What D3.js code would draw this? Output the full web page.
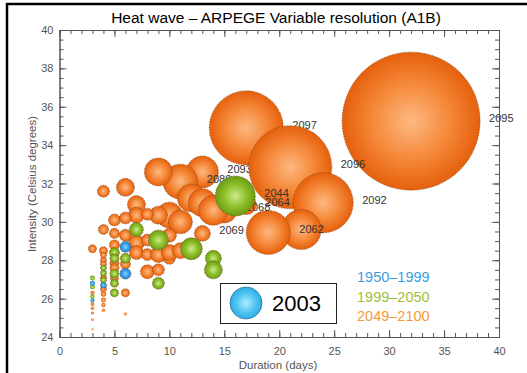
<!DOCTYPE html>
<html>
<head>
<meta charset="utf-8">
<script src="https://cdn.jsdelivr.net/npm/d3@7"></script>
<style>
  body { margin: 0; background: #fff; }
  text { font-family: "Liberation Sans", Arial, sans-serif; }
</style>
</head>
<body>
<script>
// chart values: [duration (days), intensity (deg C), severity, year label]
const periods = ["1950\u20131999", "1999\u20132050", "2049\u20132100"];

const events2049 = [
    [32, 35.25, 100, "2095"],
    [17, 34.9, 28.8, "2097"],
    [13, 32.6, 5.4, "2093"],
    [11, 32.1, 6.4, "2080"],
    [21, 32.85, 36.2, "2096"],
    [24, 31.0, 18.9, "2092"],
    [22, 29.6, 8.4, ""],
    [19, 29.45, 10.2, "2062"],
    [17, 30.9, 2.1, "2064"],
    [15, 30.6, 3.3, "2068"],
    [9, 32.6, 4.1, ""],
    [12, 31.25, 4.1, ""],
    [13, 31.0, 4.1, ""],
    [14, 30.6, 4.7, ""],
    [10, 30.35, 3.55, ""],
    [11, 30.0, 3.0, ""],
    [9, 30.35, 1.7, ""],
    [13, 29.4, 1.34, "2069"],
    [6, 31.8, 1.7, ""],
    [4, 31.6, 0.76, ""],
    [7, 30.9, 1.7, ""],
    [7, 30.35, 1.34, ""],
    [8, 30.4, 0.76, ""],
    [5, 30.1, 0.76, ""],
    [6, 30.2, 0.76, ""],
    [4, 29.6, 0.53, ""],
    [5, 29.4, 0.53, ""],
    [6, 29.3, 0.76, ""],
    [3, 28.6, 0.34, ""],
    [4, 28.5, 0.34, ""],
    [5, 28.8, 0.53, ""],
    [7, 28.9, 1.34, ""],
    [7, 28.4, 1.03, ""],
    [8, 29.05, 0.76, ""],
    [8, 28.3, 0.76, ""],
    [9, 28.3, 1.34, ""],
    [10, 28.1, 0.76, ""],
    [10, 28.4, 1.34, ""],
    [11, 28.5, 1.34, ""],
    [10, 29.3, 1.03, ""],
    [8, 27.4, 1.03, ""],
    [9, 27.5, 0.76, ""],
    [6, 26.3, 0.34, ""],
    [6, 27.8, 0.53, ""],
    [6, 25.2, 0.047, ""],
    [5, 27.85, 0.43, ""],
    [5, 27.6, 0.43, ""],
    [5, 27.07, 0.34, ""],
    [4, 28.27, 0.19, ""],
    [4, 28.0, 0.19, ""],
    [4, 27.8, 0.19, ""],
    [4, 27.1, 0.19, ""],
    [4, 26.5, 0.19, ""],
    [4, 26.24, 0.15, ""],
    [4, 25.93, 0.13, ""],
    [4, 25.67, 0.1, ""],
    [4, 25.4, 0.06, ""],
    [3, 26.3, 0.1, ""],
    [3, 25.72, 0.08, ""],
    [3, 25.5, 0.07, ""],
    [3, 25.25, 0.05, ""],
    [3, 24.9, 0.03, ""],
    [3, 24.4, 0.02, ""]
];

const events1999 = [
    [16, 31.35, 8.4, "2044"],
    [7, 29.6, 1.03, ""],
    [9, 29.05, 2.1, ""],
    [12, 28.6, 2.5, ""],
    [14, 28.1, 1.34, ""],
    [14, 27.5, 1.7, ""],
    [9, 26.8, 0.76, ""],
    [6, 28.1, 0.53, ""],
    [5, 28.4, 0.53, ""],
    [5, 28.1, 0.43, ""],
    [5, 27.3, 0.43, ""],
    [5, 26.8, 0.34, ""],
    [5, 26.3, 0.34, ""],
    [4, 27.6, 0.19, ""],
    [4, 27.33, 0.19, ""],
    [4, 26.97, 0.19, ""],
    [3, 27.07, 0.13, ""],
    [3, 26.6, 0.13, ""],
    [3, 26.1, 0.1, ""]
];

const events1950 = [
    [6, 28.7, 0.64, ""],
    [6, 27.3, 0.64, ""],
    [4, 26.7, 0.19, ""],
    [3, 26.8, 0.13, ""],
    [3, 25.9, 0.084, ""]
];

const event2003 = [5.4, "2003"];  // severity of the 2003 reference wave

const xMajor = [0, 5, 10, 15, 20, 25, 30, 35, 40];
const yMajor = [24, 26, 28, 30, 32, 34, 36, 38, 40];

const width = 527, height = 373;

const svg = d3.select("body").append("svg")
    .attr("width", width)
    .attr("height", height);

// scales
const x = d3.scaleLinear().domain([0, 40]).range([59.5, 499]);
const y = d3.scaleLinear().domain([24, 40]).range([337, 30]);
const r = d3.scaleSqrt().domain([0, 100]).range([0, 69]);

// gradients for the shaded balls
const defs = svg.append("defs");
const grads = {
    orange: ["#fdb983", "#f5893a", "#e5600c"],
    green: ["#cde98f", "#8fc12c", "#6a9c12"],
    blue: ["#8fd4ff", "#3aa2ec", "#1a86d8"],
    cyan: ["#b2ecff", "#58c8f2", "#2aaee6"]
};
Object.entries(grads).forEach(([k, c]) => {
    const g = defs.append("radialGradient").attr("id", "g_" + k)
        .attr("cx", "50%").attr("cy", "50%").attr("r", "50%");
    g.append("stop").attr("offset", "0%").attr("stop-color", c[0]);
    g.append("stop").attr("offset", "55%").attr("stop-color", c[1]);
    g.append("stop").attr("offset", "100%").attr("stop-color", c[2]);
});

// outer frame (only left/top visible in the original crop)
svg.append("rect")
    .attr("x", 7).attr("y", 4)
    .attr("width", width).attr("height", height)
    .attr("fill", "none").attr("stroke", "#000").attr("stroke-width", 2.5);

// title
svg.append("text")
    .attr("x", 276).attr("y", 23)
    .attr("text-anchor", "middle")
    .attr("font-size", 15.5)
    .text("Heat wave \u2013 ARPEGE Variable resolution (A1B)");

// bubbles, each followed by its year label so later balls can hide it
const drawGroup = (data, key) => {
    const g = svg.append("g");
    data.forEach(d => {
        g.append("circle")
            .attr("cx", x(d[0]))
            .attr("cy", y(d[1]))
            .attr("r", r(d[2]))
            .attr("fill", `url(#g_${key})`)
            .attr("stroke", "#7a3a10")
            .attr("stroke-width", r(d[2]) > 3 ? 0.6 : 0)
            .attr("stroke-dasharray", "1.5,1.2");
        if (d[3] !== "") {
            g.append("text")
                .attr("x", x(d[0]) + r(d[2]) + 9)
                .attr("y", y(d[1]) + 1)
                .attr("font-size", 11)
                .attr("fill", "#333")
                .text(d[3]);
        }
    });
};
drawGroup(events2049, "orange");
drawGroup(events1999, "green");
drawGroup(events1950, "blue");

// axes: ticks inward on all four sides
const axisColor = "#555";
const styleAxis = (g) => {
    g.selectAll("path").attr("stroke", axisColor);
    g.selectAll("line").attr("stroke", axisColor);
    g.selectAll("text").attr("fill", "#555").attr("font-size", 11)
        .attr("font-family", "Liberation Sans, Arial, sans-serif");
};

const xMinor = d3.range(0, 41, 1);
const yMinor = d3.range(24, 40.01, 0.5);

svg.append("g").attr("transform", "translate(0,337)")
    .call(d3.axisBottom(x).tickValues(xMinor).tickSizeInner(-4).tickSizeOuter(0).tickFormat(""))
    .call(styleAxis);
svg.append("g").attr("transform", "translate(0,337)")
    .call(d3.axisBottom(x).tickValues(xMajor).tickSizeInner(-7).tickSizeOuter(0).tickPadding(10))
    .call(styleAxis);
svg.append("g").attr("transform", "translate(0,30)")
    .call(d3.axisTop(x).tickValues(xMinor).tickSizeInner(-4).tickSizeOuter(0).tickFormat(""))
    .call(styleAxis);
svg.append("g").attr("transform", "translate(0,30)")
    .call(d3.axisTop(x).tickValues(xMajor).tickSizeInner(-7).tickSizeOuter(0).tickFormat(""))
    .call(styleAxis);

svg.append("g").attr("transform", "translate(59.5,0)")
    .call(d3.axisLeft(y).tickValues(yMinor).tickSizeInner(-4).tickSizeOuter(0).tickFormat(""))
    .call(styleAxis);
svg.append("g").attr("transform", "translate(59.5,0)")
    .call(d3.axisLeft(y).tickValues(yMajor).tickSizeInner(-7).tickSizeOuter(0).tickPadding(6))
    .call(styleAxis);
svg.append("g").attr("transform", "translate(499,0)")
    .call(d3.axisRight(y).tickValues(yMinor).tickSizeInner(-4).tickSizeOuter(0).tickFormat(""))
    .call(styleAxis);
svg.append("g").attr("transform", "translate(499,0)")
    .call(d3.axisRight(y).tickValues(yMajor).tickSizeInner(-7).tickSizeOuter(0).tickFormat(""))
    .call(styleAxis);

// axis labels
svg.append("text")
    .attr("x", 278).attr("y", 369)
    .attr("text-anchor", "middle")
    .attr("font-size", 11.5).attr("fill", "#555")
    .text("Duration (days)");

svg.append("g").attr("transform", "translate(36,184)")
    .append("text")
    .attr("transform", "rotate(-90)")
    .attr("text-anchor", "middle")
    .attr("font-size", 11.5).attr("fill", "#555")
    .text("Intensity (Celsius degrees)");

// 2003 reference box
svg.append("rect")
    .attr("x", 220.5).attr("y", 283.5)
    .attr("width", 116).attr("height", 40)
    .attr("fill", "#fff").attr("stroke", "#222").attr("stroke-width", 1);
svg.append("circle")
    .attr("cx", 246).attr("cy", 303)
    .attr("r", r(event2003[0]))
    .attr("fill", "url(#g_cyan)")
    .attr("stroke", "#1a5a80").attr("stroke-width", 0.6);
svg.append("text")
    .attr("x", 272).attr("y", 311)
    .attr("font-size", 22)
    .text(event2003[1]);

// period legend
const legendColors = ["#3a9de0", "#9fc03a", "#f39c3c"];
periods.forEach((p, i) => {
    svg.append("text")
        .attr("x", 357).attr("y", 282 + i * 19.5)
        .attr("font-size", 14.5)
        .attr("fill", legendColors[i])
        .text(p);
});
</script>
</body>
</html>
